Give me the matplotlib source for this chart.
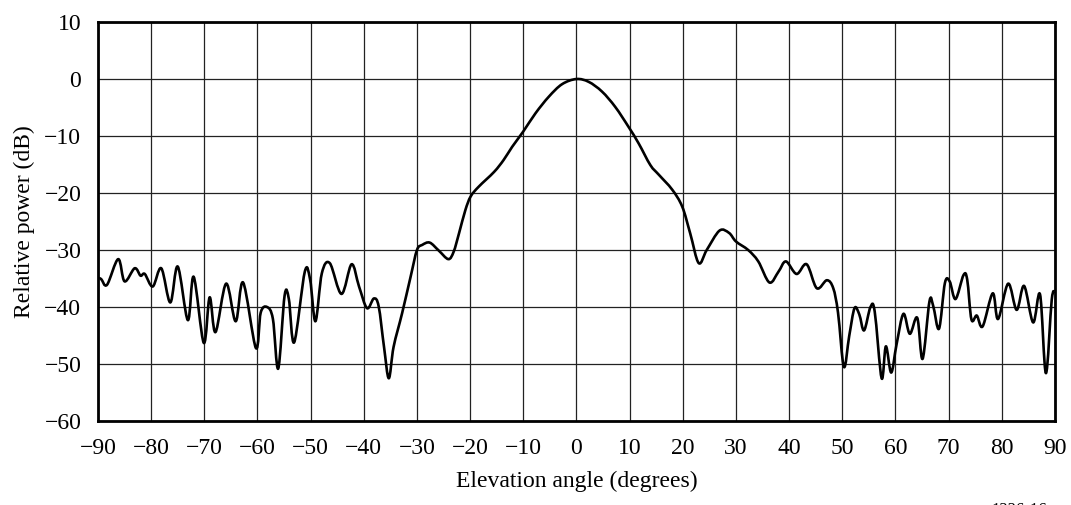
import matplotlib
matplotlib.use("Agg")
import matplotlib.pyplot as plt
from matplotlib.path import Path
from matplotlib.patches import PathPatch

# antenna elevation pattern, relative power vs elevation angle
angle = [-90, -89.4, -88.3, -86.2, -85.0, -83.1, -82.0, -81.2, -79.7, -78.1,
         -76.4, -75.0, -73.1, -72.0, -70.1, -69.0, -67.9, -65.9, -64.1, -62.7,
         -60.3, -59.4, -58.2, -57.1, -56.1, -54.9, -54.1, -53.1, -51.1, -50.1,
         -49.1, -47.9, -46.4, -44.2, -42.3, -40.9, -39.4, -38.1, -37.2, -36.2,
         -35.3, -34.4, -32.8, -31.2, -30.0, -29.0, -27.6, -25.9, -24.1, -23.1,
         -22.1, -20.9, -19.9, -18.4, -15.5, -13.7, -12.1, -10.0, -7.7, -5.2,
         -2.7, 0.0, 2.3, 4.8, 7.3, 9.8, 11.7, 13.9, 15.5, 18.0,
         19.9, 21.4, 23.0, 24.5, 26.9, 28.7, 30.0, 32.3, 34.2, 36.3,
         38.0, 39.4, 41.4, 43.3, 45.2, 47.1, 48.3, 49.2, 50.3, 51.3,
         52.3, 53.2, 54.1, 55.3, 56.1, 57.4, 58.2, 59.2, 60.2, 61.5,
         62.7, 64.1, 65.1, 66.4, 67.1, 68.2, 69.3, 70.2, 71.3, 72.8,
         73.5, 74.3, 75.3, 76.4, 78.3, 79.3, 81.2, 82.8, 84.2, 85.9,
         87.2, 88.3, 89.4, 90.0]
power = [-34.9, -35.1, -36.1, -31.6, -35.5, -33.2, -34.5, -34.2, -36.4, -33.2,
         -39.2, -32.9, -42.3, -34.7, -46.3, -38.3, -44.4, -35.9, -42.5, -35.7,
         -47.2, -41.0, -40.0, -42.1, -50.8, -38.0, -38.6, -46.2, -33.8, -35.2,
         -42.5, -34.1, -32.3, -37.7, -32.5, -36.4, -40.2, -38.5, -39.9, -47.0,
         -52.5, -47.0, -41.1, -34.7, -30.0, -29.1, -28.7, -30.1, -31.6, -30.3,
         -27.1, -23.0, -20.6, -18.9, -16.3, -14.2, -11.9, -9.2, -6.0, -3.1,
         -0.9, 0.0, -0.5, -2.2, -4.9, -8.4, -11.3, -15.1, -16.8, -19.4,
         -22.4, -27.1, -32.3, -30.0, -26.6, -27.0, -28.5, -30.0, -32.0, -35.7,
         -33.8, -32.0, -34.2, -32.5, -36.7, -35.3, -36.7, -41.0, -50.5, -45.1,
         -40.2, -41.3, -44.1, -40.0, -40.8, -52.5, -46.9, -51.5, -46.6, -41.2,
         -44.7, -41.9, -49.1, -39.0, -39.8, -43.8, -35.8, -35.5, -38.6, -34.4,
         -35.2, -42.2, -41.5, -43.4, -37.6, -42.1, -35.9, -40.5, -36.3, -42.7,
         -37.8, -51.6, -38.7, -37.3]

x_ticks = list(range(-90, 91, 10))
y_ticks = list(range(-60, 11, 10))


def smooth_path(xs, ys):
    # Catmull-Rom through the points, written as cubic Bezier segments
    pts = list(zip(xs, ys))
    n = len(pts)
    verts = [pts[0]]
    codes = [Path.MOVETO]
    for i in range(n - 1):
        p0 = pts[max(i - 1, 0)]
        p1 = pts[i]
        p2 = pts[i + 1]
        p3 = pts[min(i + 2, n - 1)]
        c1 = (p1[0] + (p2[0] - p0[0]) / 6, p1[1] + (p2[1] - p0[1]) / 6)
        c2 = (p2[0] - (p3[0] - p1[0]) / 6, p2[1] - (p3[1] - p1[1]) / 6)
        verts += [c1, c2, p2]
        codes += [Path.CURVE4] * 3
    return Path(verts, codes)


plt.rcParams['font.family'] = ['Liberation Serif', 'DejaVu Serif']

fig = plt.figure(figsize=(10.71, 5.05), dpi=100)
ax = fig.add_axes([0.0915, 0.1663, 0.8935, 0.7901])

curve = PathPatch(smooth_path(angle, power), fill=False, edgecolor='black',
                  lw=1.9, joinstyle='round', zorder=3)
ax.add_patch(curve)

ax.set_xlim(-90, 90)
ax.set_ylim(-60, 10)
ax.set_xticks(x_ticks)
ax.set_yticks(y_ticks)
ax.grid(True, color='#222222', lw=0.9)
ax.tick_params(length=0, labelsize=17)
ax.tick_params(axis='x', pad=12)
ax.tick_params(axis='y', pad=12)
for s in ax.spines.values():
    s.set_linewidth(2.0)

ax.set_xlabel("Elevation angle (degrees)", fontsize=17, labelpad=9)
ax.set_ylabel("Relative power (dB)", fontsize=17, labelpad=7)

fig.text(0.952, 0.006, "1336-16", fontsize=12, ha='center', va='top')

fig.savefig("out.png", dpi=100)
